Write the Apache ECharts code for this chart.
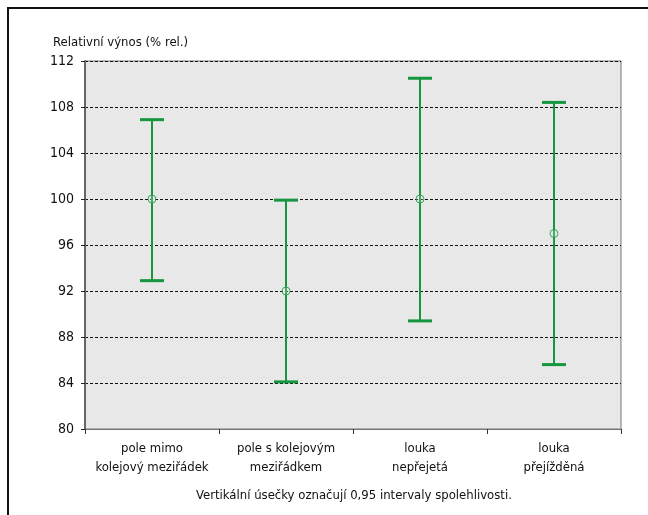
<!DOCTYPE html>
<html lang="cs">
<head>
<meta charset="UTF-8">
<title>Relativní výnos</title>
<style>
  html, body { margin: 0; padding: 0; background: #fff; }
  #main { width: 648px; height: 515px; }
</style>
</head>
<body>
<div id="main"></div>
<script src="https://cdn.jsdelivr.net/npm/echarts@6/dist/echarts.min.js"></script>
<script>
// data
var categories = ['pole mimo\nkolejový meziřádek', 'pole s kolejovým\nmeziřádkem', 'louka\nnepřejetá', 'louka\npřejížděná'];
var means = [100, 92, 100, 97];
var lower = [92.9, 84.1, 89.4, 85.6];
var upper = [106.9, 99.9, 110.5, 108.4];
var yTicks = { min: 80, max: 112, step: 4 };

var FONT = '"Liberation Sans Narrow", "DejaVu Sans Condensed", "Liberation Sans", sans-serif';
var GREEN = '#16973f';

var barData = categories.map(function (c, i) { return [i, lower[i], upper[i]]; });

var chart = echarts.init(document.getElementById('main'));
chart.setOption({
  animation: false,
  textStyle: { fontFamily: FONT },
  grid: {
    left: 85, right: 27, top: 61, bottom: 86,
    show: true,
    backgroundColor: '#e8e8e8',
    borderColor: '#777',
    borderWidth: 1
  },
  graphic: [
    { type: 'rect', shape: { x: 8, y: 8, width: 700, height: 600 },
      style: { fill: 'none', stroke: '#111', lineWidth: 2 } },
    { type: 'text', left: 53, top: 36,
      style: { text: 'Relativní výnos (% rel.)', font: '13px ' + FONT, fill: '#111' } },
    { type: 'text', left: 196, top: 489,
      style: { text: 'Vertikální úsečky označují 0,95 intervaly spolehlivosti.', font: '13px ' + FONT, fill: '#111' } }
  ],
  xAxis: {
    type: 'category',
    data: categories,
    boundaryGap: true,
    axisLine: { lineStyle: { color: '#777', width: 1 } },
    axisTick: { show: true, interval: 0, length: 5, lineStyle: { color: '#333' } },
    axisLabel: { interval: 0, color: '#111', fontSize: 13, lineHeight: 19, margin: 10, fontFamily: FONT },
    splitLine: { show: false }
  },
  yAxis: {
    type: 'value',
    min: yTicks.min, max: yTicks.max, interval: yTicks.step,
    axisLine: { show: true, lineStyle: { color: '#666', width: 2 } },
    axisTick: { show: true, length: 4, lineStyle: { color: '#222' } },
    axisLabel: { color: '#111', fontSize: 14, margin: 11, fontFamily: FONT },
    splitLine: { show: true, lineStyle: { color: '#111', type: [3, 2], width: 1 } }
  },
  series: [
    {
      type: 'custom',
      data: barData,
      renderItem: function (params, api) {
        var lo = api.coord([api.value(0), api.value(1)]);
        var hi = api.coord([api.value(0), api.value(2)]);
        var half = 12;
        return {
          type: 'group',
          children: [
            { type: 'line', shape: { x1: hi[0], y1: hi[1], x2: lo[0], y2: lo[1] }, style: { stroke: GREEN, lineWidth: 2 } },
            { type: 'line', shape: { x1: hi[0] - half, y1: hi[1], x2: hi[0] + half, y2: hi[1] }, style: { stroke: GREEN, lineWidth: 3 } },
            { type: 'line', shape: { x1: lo[0] - half, y1: lo[1], x2: lo[0] + half, y2: lo[1] }, style: { stroke: GREEN, lineWidth: 3 } }
          ]
        };
      },
      z: 3
    },
    {
      type: 'scatter',
      data: means,
      symbol: 'circle',
      symbolSize: 8,
      itemStyle: { color: 'rgba(232,232,232,0.3)', borderColor: GREEN, borderWidth: 1 },
      z: 4
    }
  ]
});
</script>
</body>
</html>
